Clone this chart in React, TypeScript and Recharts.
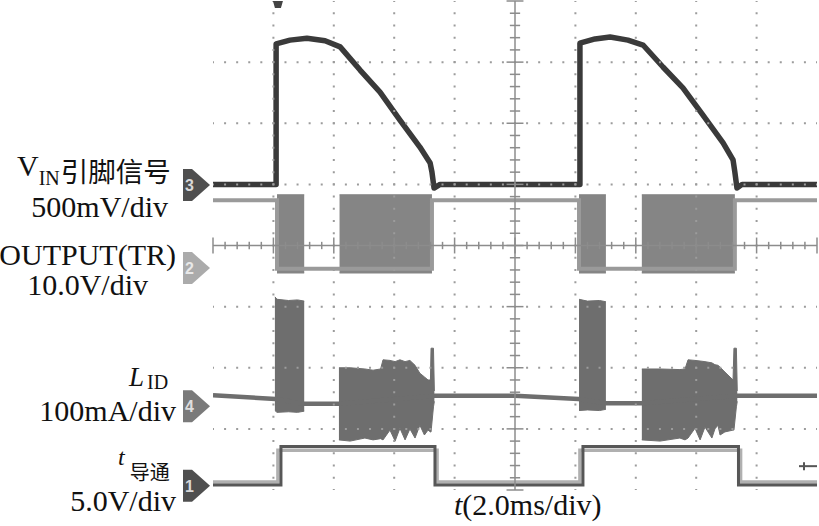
import React from 'react';
import { ComposedChart, Line, Area, XAxis, YAxis, ReferenceLine, ReferenceDot } from 'recharts';

// Horizontal: time in ms (2.0 ms/div, 10 divisions). Vertical: screen divisions (0..8).
const timeTicks = [0, 2, 4, 6, 8, 10, 12, 14, 16, 18, 20];
const divTicks = [0, 1, 2, 3, 4, 5, 6, 7, 8];

// CH3  V_IN pin signal [t, div]
const vinPoints: [number, number][] = [
  [0, 5.0], [2.09, 5.0], [2.09, 7.3], [2.55, 7.36], [3.11, 7.39], [3.71, 7.35], [4.21, 7.25],
  [4.87, 6.87], [5.53, 6.51], [6.19, 6.05], [6.85, 5.61], [7.19, 5.35], [7.25, 5.2], [7.32, 4.94],
  [7.52, 5.0], [12.15, 5.0], [12.15, 7.31], [12.65, 7.38], [13.15, 7.41], [13.74, 7.36],
  [14.24, 7.28], [14.9, 6.92], [15.56, 6.58], [16.23, 6.13], [16.89, 5.68], [17.22, 5.4],
  [17.28, 5.2], [17.35, 4.94], [17.52, 5.0], [20, 5.0],
];

// CH2  OUTPUT(TR) level line [t, div]
const outputLine: [number, number][] = [
  [0, 4.74], [2.12, 4.74], [2.12, 3.62], [7.25, 3.62], [7.25, 4.74], [12.12, 4.74],
  [12.12, 3.62], [17.28, 3.62], [17.28, 4.74], [20, 4.74],
];
// CH2 switching bursts [tStart, tEnd, low, high]
const outputBursts: [number, number, number, number][] = [
  [2.12, 3.02, 3.55, 4.83],
  [4.19, 7.25, 3.55, 4.83],
  [12.12, 13.01, 3.55, 4.83],
  [14.2, 17.28, 3.55, 4.83],
];

// CH4  L_ID current baseline [t, div]
const lidLine: [number, number][] = [
  [0, 1.55], [2.07, 1.49], [3.02, 1.41], [4.19, 1.41], [7.35, 1.54], [10, 1.54],
  [12.1, 1.49], [13.01, 1.42], [14.2, 1.42], [17.35, 1.54], [20, 1.54],
];
// CH4 ringing envelopes [t, low, high]
const lidBurst1: [number, number, number][] = [
  [2.05, 1.3, 3.16], [2.12, 1.27, 3.12], [2.5, 1.28, 3.1], [2.8, 1.27, 3.11], [3.02, 1.29, 3.09],
];
const lidBurst2: [number, number, number][] = [
  [4.17, 0.82, 2.0], [4.54, 0.8, 2.0], [5.03, 0.85, 1.98], [5.3, 0.82, 1.96], [5.55, 0.84, 1.98],
  [5.63, 0.82, 2.13], [5.86, 0.98, 2.12], [6.03, 0.8, 2.1], [6.19, 1.01, 2.13], [6.36, 0.82, 2.1],
  [6.52, 1.0, 2.12], [6.69, 0.85, 2.04], [6.85, 1.06, 1.91], [7.0, 0.9, 1.85], [7.12, 0.98, 1.8],
  [7.2, 0.95, 1.8], [7.22, 0.95, 2.32], [7.3, 1.36, 2.32], [7.33, 1.45, 1.62],
];
const lidBurst3: [number, number, number][] = [
  [12.12, 1.3, 3.12], [12.4, 1.31, 3.09], [12.8, 1.3, 3.1], [13.01, 1.32, 3.08],
];
const lidBurst4: [number, number, number][] = [
  [14.2, 0.82, 1.98], [14.8, 0.8, 1.98], [15.46, 0.85, 1.97], [15.63, 0.82, 1.98], [15.73, 0.85, 2.13],
  [15.96, 1.01, 2.12], [16.13, 0.82, 2.11], [16.29, 1.03, 2.1], [16.52, 0.85, 2.08], [16.62, 1.0, 2.05],
  [16.72, 1.06, 2.04], [16.79, 0.9, 2.01], [16.95, 0.95, 1.93], [17.22, 0.98, 1.8], [17.25, 0.98, 2.32],
  [17.33, 1.36, 2.32], [17.36, 1.45, 1.62],
];

// CH1  t_导通 (two overlaid traces) [t, div]
const tonDark: [number, number][] = [
  [0, 0.08], [2.25, 0.08], [2.25, 0.71], [7.35, 0.71], [7.35, 0.08], [12.25, 0.08],
  [12.25, 0.71], [17.4, 0.71], [17.4, 0.08], [20, 0.08],
];
const tonLight: [number, number][] = [
  [0, 0.13], [2.15, 0.13], [2.15, 0.65], [7.42, 0.65], [7.42, 0.13], [12.15, 0.13],
  [12.15, 0.65], [17.47, 0.65], [17.47, 0.13], [20, 0.13],
];

// Channel ground markers
const channelMarkers = [
  { ch: '3', level: 4.99, color: '#4f4f4f', text: '#d8d8d8' },
  { ch: '2', level: 3.63, color: '#ababab', text: '#e8e8e8' },
  { ch: '4', level: 1.37, color: '#7a7a7a', text: '#dedede' },
  { ch: '1', level: 0.07, color: '#4f4f4f', text: '#d8d8d8' },
];
const triggerTime = 2.15;
const triggerLevel = 0.39;

const toXY = (arr: [number, number][]) => arr.map(([t, v]) => ({ t, v }));
const toRange = (arr: [number, number, number][]) => arr.map(([t, lo, hi]) => ({ t, r: [lo, hi] }));
const burstRange = (b: [number, number, number, number]) => [
  { t: b[0], r: [b[2], b[3]] },
  { t: b[1], r: [b[2], b[3]] },
];

const xGrid = timeTicks.filter((t) => t > 0 && t < 20 && t !== 10);
const yGrid = divTicks.filter((v) => v > 0 && v < 8 && v !== 4);
const crossY = Array.from({ length: 41 }, (_, i) => Math.round(i * 20) / 100);
const crossX = Array.from({ length: 51 }, (_, i) => Math.round(i * 40) / 100);

const SERIF = "'Liberation Serif', 'DejaVu Serif', serif";
const CJK = "'Noto Sans CJK SC', sans-serif";

const blank = () => '';

export default function App() {
  return (
    <div style={{ position: 'absolute', left: 0, top: 0, width: 819, height: 526, background: '#fff' }}>
      <ComposedChart width={819} height={526} margin={{ top: 1, right: 2, bottom: 36, left: 213 }}>
        <XAxis
          type="number" dataKey="t" domain={[0, 20]} ticks={timeTicks} height={0} mirror
          tickSize={14} tickFormatter={blank} axisLine={{ stroke: '#000', strokeWidth: 2.5 }}
          tickLine={{ stroke: '#808080', strokeWidth: 1.5 }} allowDataOverflow
        />
        <XAxis
          xAxisId="top" orientation="top" type="number" domain={[0, 20]} ticks={timeTicks} height={0} mirror
          tickSize={15} tickFormatter={blank} axisLine={{ stroke: '#000', strokeWidth: 2.5 }}
          tickLine={{ stroke: '#808080', strokeWidth: 1.5 }}
        />
        <YAxis
          type="number" domain={[0, 8]} ticks={divTicks} width={0} mirror tickSize={14}
          tickFormatter={blank} axisLine={{ stroke: '#000', strokeWidth: 2.5 }}
          tickLine={{ stroke: '#808080', strokeWidth: 1.5 }} allowDataOverflow
        />
        <YAxis
          yAxisId="right" orientation="right" type="number" domain={[0, 8]} ticks={divTicks} width={0} mirror
          tickSize={10} tickFormatter={blank} axisLine={{ stroke: '#000', strokeWidth: 2.5 }}
          tickLine={{ stroke: '#808080', strokeWidth: 1.5 }}
        />

        {/* CH2 */}
        <Line data={toXY(outputLine)} dataKey="v" type="linear" stroke="#9a9a9a" strokeWidth={4}
          dot={false} activeDot={false} isAnimationActive={false} />
        {outputBursts.map((b, i) => (
          <Area key={'ob' + i} data={burstRange(b)} dataKey="r" type="linear" stroke="#858585"
            strokeWidth={1} fill="#858585" fillOpacity={1} dot={false} activeDot={false} isAnimationActive={false} />
        ))}

        {/* CH4 */}
        <Line data={toXY(lidLine)} dataKey="v" type="linear" stroke="#6e6e6e" strokeWidth={4.5}
          dot={false} activeDot={false} isAnimationActive={false} />
        {[lidBurst1, lidBurst2, lidBurst3, lidBurst4].map((b, i) => (
          <Area key={'lb' + i} data={toRange(b)} dataKey="r" type="linear" stroke="#6e6e6e"
            strokeWidth={1} fill="#6e6e6e" fillOpacity={1} dot={false} activeDot={false} isAnimationActive={false} />
        ))}

        {/* CH1 */}
        <Line data={toXY(tonLight)} dataKey="v" type="linear" stroke="#b0b0b0" strokeWidth={3.5}
          dot={false} activeDot={false} isAnimationActive={false} />
        <Line data={toXY(tonDark)} dataKey="v" type="linear" stroke="#575757" strokeWidth={3}
          dot={false} activeDot={false} isAnimationActive={false} />

        {/* CH3 */}
        <Line data={toXY(vinPoints)} dataKey="v" type="linear" stroke="#3a3a3a" strokeWidth={5.5}
          strokeLinejoin="round" dot={false} activeDot={false} isAnimationActive={false} />

        {/* graticule */}
        {xGrid.map((t) => (
          <ReferenceLine key={'gx' + t} x={t} stroke="#9c9c9c" strokeWidth={2} strokeDasharray="2 10.225" strokeDashoffset={1} />
        ))}
        {yGrid.map((v) => (
          <ReferenceLine key={'gy' + v} y={v} stroke="#9c9c9c" strokeWidth={2} strokeDasharray="2 10.08" strokeDashoffset={1} />
        ))}
        <ReferenceLine x={10} stroke="#8c8c8c" strokeWidth={1.5} />
        <ReferenceLine y={4} stroke="#8c8c8c" strokeWidth={1.5} />
        {crossY.map((v) => {
          const w = Number.isInteger(v) ? 0.28 : 0.17;
          return (
            <ReferenceLine key={'cy' + v} segment={[{ x: 10 - w, y: v }, { x: 10 + w, y: v }]}
              stroke="#8c8c8c" strokeWidth={1.5} ifOverflow="visible" />
          );
        })}
        {crossX.map((t) => {
          const h = Math.round(t * 100) % 200 === 0 ? 0.13 : 0.06;
          return (
            <ReferenceLine key={'cx' + t} segment={[{ x: t, y: 4 - h }, { x: t, y: 4 + h }]}
              stroke="#8c8c8c" strokeWidth={1.5} ifOverflow="visible" />
          );
        })}

        {/* channel markers */}
        {channelMarkers.map((m) => (
          <ReferenceDot key={'m' + m.ch} x={0} y={m.level} r={0} ifOverflow="visible"
            shape={(p: any) => {
              const x0 = p.cx - 30;
              const cy = p.cy;
              return (
                <g>
                  <polygon points={`${x0},${cy - 16} ${x0 + 9},${cy - 16} ${x0 + 27},${cy} ${x0 + 9},${cy + 16} ${x0},${cy + 16}`} fill={m.color} />
                  <text x={x0 + 2} y={cy + 6} fontSize={16} fontWeight="bold" fontFamily="'Liberation Sans', sans-serif" fill={m.text}>{m.ch}</text>
                </g>
              );
            }} />
        ))}
        <ReferenceDot x={triggerTime} y={8} r={0} ifOverflow="visible"
          shape={(p: any) => (
            <polygon points={`${p.cx - 5},${p.cy} ${p.cx + 5},${p.cy} ${p.cx + 3},${p.cy + 7} ${p.cx - 3},${p.cy + 7}`} fill="#444" />
          )} />
        <ReferenceDot x={20} y={triggerLevel} r={0} ifOverflow="visible"
          shape={(p: any) => (
            <g>
              <line x1={p.cx - 18} y1={p.cy} x2={p.cx} y2={p.cy} stroke="#555" strokeWidth={2} />
              <line x1={p.cx - 13} y1={p.cy - 4} x2={p.cx - 13} y2={p.cy + 4} stroke="#555" strokeWidth={2} />
            </g>
          )} />
      </ComposedChart>

      <svg width={819} height={526} style={{ position: 'absolute', left: 0, top: 0, pointerEvents: 'none' }}>
        <g fontFamily={SERIF} fill="#111">
          <text x={17} y={176} fontSize={30}>
            <tspan>V</tspan>
            <tspan fontSize={20} dy={9}>IN</tspan>
            <tspan fontSize={27.5} fontFamily={CJK} dx={1} dy={-3}>引脚信号</tspan>
          </text>
          <text x={168} y={217} fontSize={30} textAnchor="end">500mV/div</text>
          <text x={176} y={265} fontSize={30} textAnchor="end">OUTPUT(TR)</text>
          <text x={148} y={295} fontSize={30} textAnchor="end">10.0V/div</text>
          <text x={129} y={386} fontSize={27}>
            <tspan fontStyle="italic">L</tspan>
            <tspan fontSize={20} dx={3} dy={3}>ID</tspan>
          </text>
          <text x={176} y={421} fontSize={30} textAnchor="end">100mA/div</text>
          <text x={118} y={465} fontSize={24}>
            <tspan fontStyle="italic">t</tspan>
            <tspan fontSize={20} fontFamily={CJK} dx={5} dy={15}>导通</tspan>
          </text>
          <text x={176} y={511} fontSize={30} textAnchor="end">5.0V/div</text>
          <text x={454} y={515} fontSize={30}>
            <tspan fontStyle="italic">t</tspan>(2.0ms/div)
          </text>
        </g>
      </svg>
    </div>
  );
}
